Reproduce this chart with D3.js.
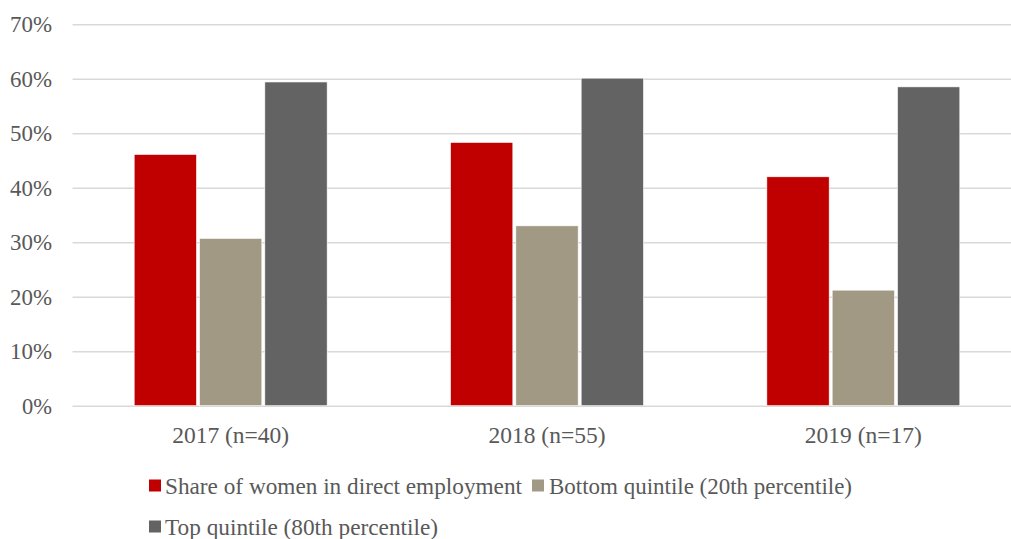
<!DOCTYPE html>
<html><head><meta charset="utf-8">
<script src="https://cdn.jsdelivr.net/npm/d3@7"></script>
<style>html,body{margin:0;padding:0;background:#fff;overflow:hidden}</style>
</head><body>
<svg id="c" width="1011" height="539"></svg>
<script>
const categories = ["2017 (n=40)", "2018 (n=55)", "2019 (n=17)"];
const seriesNames = ["Share of women in direct employment", "Bottom quintile (20th percentile)", "Top quintile (80th percentile)"];
const shareWomen = [0.461, 0.483, 0.420];
const bottomQuintile = [0.307, 0.330, 0.212];
const topQuintile = [0.594, 0.601, 0.585];
const yTicks = [0, 0.1, 0.2, 0.3, 0.4, 0.5, 0.6, 0.7];
const colors = ["#C00000", "#A29985", "#636363"];

const series = [shareWomen, bottomQuintile, topQuintile];
const svg = d3.select("#c");
const font = "'Liberation Serif', serif";
const textColor = "#595959";
const fs = "23.5px";

const y = d3.scaleLinear().domain([0, 0.7]).range([405.7, 24.2]);
const x0 = d3.scaleBand().domain(categories).range([72.5, 1021.5]).paddingInner(0.39).paddingOuter(0.195);
const x1 = d3.scaleBand().domain(d3.range(series.length)).range([0, x0.bandwidth()]).paddingInner(0.046).paddingOuter(0);

// gridlines
const yAxis = d3.axisLeft(y).tickValues(yTicks).tickFormat(d3.format(".0%")).tickSize(-(1021.5 - 72.5)).tickPadding(20);
const gy = svg.append("g").attr("transform", "translate(72.5,0)").call(yAxis);
gy.select(".domain").remove();
gy.selectAll(".tick line").attr("stroke", "#D9D9D9").attr("stroke-width", 1.5);
gy.selectAll(".tick text").attr("fill", textColor).style("font-family", font).style("font-size", fs).attr("x", -20.5)
  .attr("textLength", d => d === 0 ? 30 : 42).attr("lengthAdjust", "spacingAndGlyphs");

// bars
series.forEach((vals, si) => {
  svg.append("g").selectAll("rect").data(vals).join("rect")
    .attr("x", (d, i) => x0(categories[i]) + x1(si))
    .attr("width", x1.bandwidth())
    .attr("y", d => y(d))
    .attr("height", d => y(0) - y(d))
    .attr("fill", colors[si])
    .attr("stroke", "#ffffff").attr("stroke-width", 0.6);
});

// category labels
const xAxis = d3.axisBottom(x0).tickSize(0).tickPadding(0);
const gx = svg.append("g").attr("transform", "translate(0,405.7)").call(xAxis);
gx.select(".domain").remove();
gx.selectAll(".tick text").attr("fill", textColor).style("font-family", font).style("font-size", fs)
  .attr("y", 29).attr("dy", "0.35em").attr("textLength", 117).attr("lengthAdjust", "spacingAndGlyphs");

// legend
const legendItems = [
  {name: seriesNames[0], color: colors[0], mx: 149, tx: 165, cy: 486, w: 357},
  {name: seriesNames[1], color: colors[1], mx: 532, tx: 549, cy: 486, w: 303},
  {name: seriesNames[2], color: colors[2], mx: 149, tx: 165, cy: 527, w: 273}
];
const lg = svg.append("g");
legendItems.forEach(it => {
  lg.append("rect").attr("x", it.mx).attr("y", it.cy - 6.5).attr("width", 12).attr("height", 12).attr("fill", it.color);
  lg.append("text").attr("x", it.tx).attr("y", it.cy).attr("dy", "0.35em")
    .attr("fill", textColor).style("font-family", font).style("font-size", fs)
    .attr("textLength", it.w).attr("lengthAdjust", "spacingAndGlyphs").text(it.name);
});
</script>
</body></html>
